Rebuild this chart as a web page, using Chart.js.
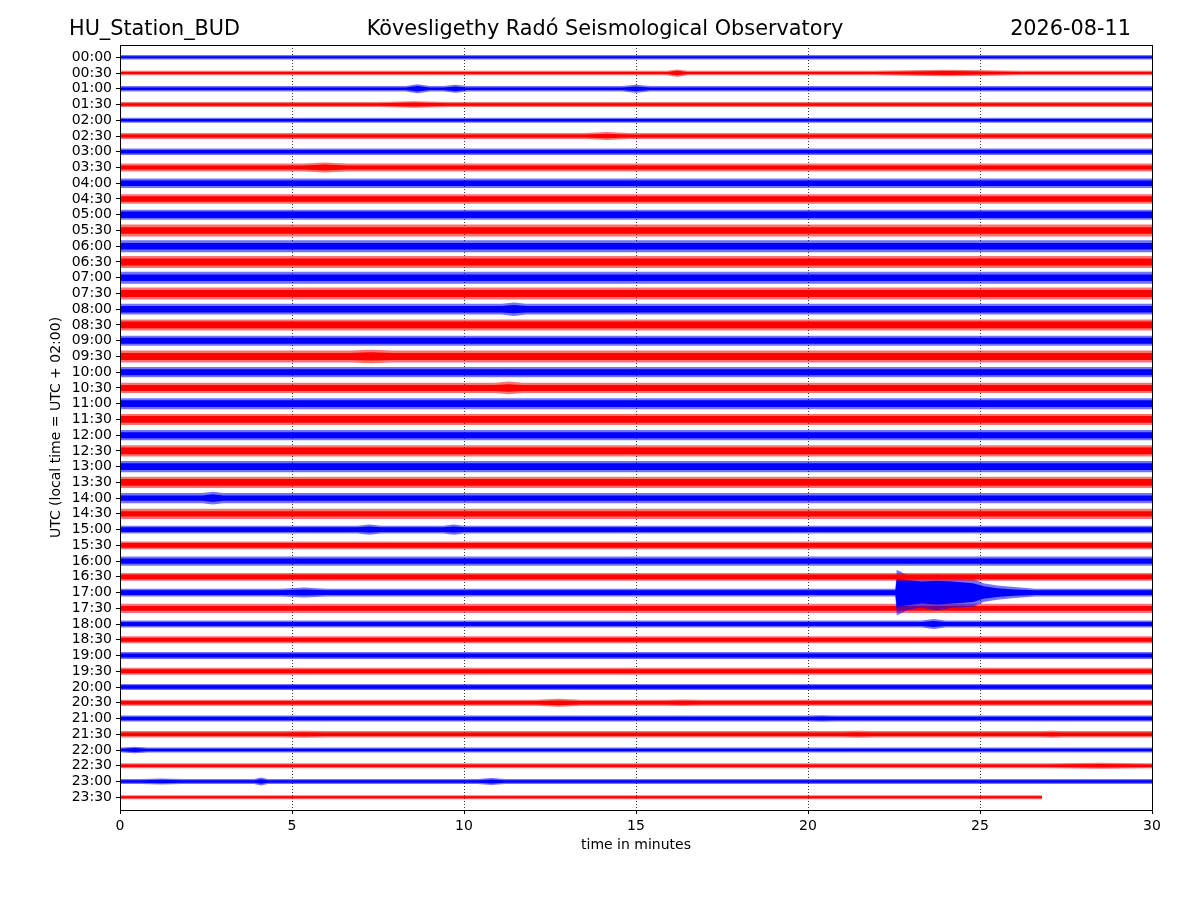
<!DOCTYPE html>
<html lang="en">
<head>
    <meta charset="UTF-8">
    <title>HU_Station_BUD helicorder</title>
    <script src="https://cdn.jsdelivr.net/npm/chart.js"></script>
    <style>
        html, body { margin: 0; padding: 0; background: #fff; }
        #wrap { width: 1200px; height: 900px; position: relative; }
    </style>
</head>
<body>
    <div id="wrap"><canvas id="heliChart"></canvas></div>

    <script>
        // header texts
        const stationName = 'HU_Station_BUD';
        const observatoryName = 'Kövesligethy Radó Seismological Observatory';
        const dateLabel = '2026-08-11';

        // one trace per half hour, top to bottom
        const timeLabels = [
            '00:00', '00:30', '01:00', '01:30', '02:00', '02:30', '03:00', '03:30',
            '04:00', '04:30', '05:00', '05:30', '06:00', '06:30', '07:00', '07:30',
            '08:00', '08:30', '09:00', '09:30', '10:00', '10:30', '11:00', '11:30',
            '12:00', '12:30', '13:00', '13:30', '14:00', '14:30', '15:00', '15:30',
            '16:00', '16:30', '17:00', '17:30', '18:00', '18:30', '19:00', '19:30',
            '20:00', '20:30', '21:00', '21:30', '22:00', '22:30', '23:00', '23:30'
        ];
        const minuteTicks = [0, 5, 10, 15, 20, 25, 30];

        // background noise level of each trace (fraction of trace spacing)
        const coreAmp = [
            0.065, 0.065, 0.08, 0.075, 0.075, 0.095, 0.115, 0.125,
            0.17, 0.17, 0.21, 0.21, 0.21, 0.22, 0.21, 0.22,
            0.21, 0.21, 0.19, 0.22, 0.19, 0.19, 0.21, 0.21,
            0.19, 0.21, 0.21, 0.21, 0.17, 0.17, 0.15, 0.15,
            0.17, 0.15, 0.15, 0.15, 0.13, 0.13, 0.13, 0.13,
            0.11, 0.11, 0.11, 0.11, 0.085, 0.085, 0.085, 0.065
        ];
        // spikes reached by the noise of each trace
        const peakAmp = [
            0.145, 0.145, 0.17, 0.16, 0.16, 0.19, 0.21, 0.25,
            0.30, 0.30, 0.32, 0.38, 0.38, 0.38, 0.38, 0.38,
            0.34, 0.35, 0.32, 0.38, 0.32, 0.32, 0.35, 0.35,
            0.32, 0.35, 0.35, 0.35, 0.32, 0.32, 0.25, 0.25,
            0.29, 0.25, 0.25, 0.29, 0.22, 0.22, 0.22, 0.22,
            0.19, 0.19, 0.19, 0.21, 0.16, 0.16, 0.16, 0.13
        ];
        // louder stretches: [trace, from minute, to minute, peak]
        const bursts = [
            [1, 15.9, 16.5, 0.23], [1, 21.9, 26.2, 0.21],
            [2, 8.3, 9.0, 0.29], [2, 9.4, 10.1, 0.25], [2, 14.6, 15.4, 0.25],
            [3, 7.5, 9.6, 0.21],
            [5, 13.5, 14.8, 0.25],
            [7, 5.3, 6.6, 0.32],
            [16, 11.1, 11.8, 0.43],
            [19, 6.7, 7.9, 0.43],
            [21, 10.9, 11.7, 0.40],
            [28, 2.4, 3.0, 0.40],
            [30, 6.9, 7.6, 0.32], [30, 9.4, 10.0, 0.32],
            [34, 4.7, 6.0, 0.32],
            [36, 23.3, 24.0, 0.32],
            [41, 12.1, 13.4, 0.25], [41, 15.8, 16.9, 0.21],
            [42, 20.0, 20.8, 0.21],
            [43, 4.7, 6.0, 0.22], [43, 21.0, 21.9, 0.22], [43, 26.8, 27.4, 0.22],
            [44, 0.05, 0.8, 0.21],
            [45, 27.0, 30.0, 0.19],
            [46, 0.6, 1.8, 0.19], [46, 3.9, 4.3, 0.25], [46, 10.4, 11.2, 0.22]
        ];
        // earthquake on the 17:00 trace
        const quakeTrace = 34;
        const quakeMinutes = [22.54, 22.58, 22.9, 23.3, 23.75, 24.2, 24.8, 25.1, 25.5, 26.0, 26.6];
        const quakePeak = [0.25, 1.45, 1.10, 0.95, 1.15, 0.95, 0.90, 0.60, 0.45, 0.35, 0.25];
        const quakeCore = [0.15, 0.90, 0.80, 0.70, 0.75, 0.70, 0.60, 0.40, 0.28, 0.20, 0.15];
        const lastTraceEnd = 26.8;

        const BLUE = '#0000ff';
        const RED = '#ff0000';

        function envelope(i, base, k, quake) {
            const end = i === timeLabels.length - 1 ? lastTraceEnd : 30;
            const pts = [[0, base]];
            bursts.filter(b => b[0] === i).sort((a, b) => a[1] - b[1]).forEach(b => {
                pts.push([b[1], base], [(b[1] + b[2]) / 2, Math.max(base, b[3] * k)], [b[2], base]);
            });
            if (i === quakeTrace) {
                quakeMinutes.forEach((m, j) => pts.push([m, quake[j]]));
            }
            pts.sort((a, b) => a[0] - b[0]);
            pts.push([end, base]);
            return pts;
        }

        const datasets = [];
        timeLabels.forEach((label, i) => {
            const col = i % 2 === 0 ? BLUE : RED;
            const soft = i % 2 === 0 ? 'rgba(0,0,255,0.55)' : 'rgba(255,0,0,0.55)';
            const outer = envelope(i, peakAmp[i], 1, quakePeak);
            const core = envelope(i, coreAmp[i], 0.6, quakeCore);
            datasets.push(
                { data: outer.map(p => ({ x: p[0], y: i - p[1] })), fill: false, borderWidth: 0, backgroundColor: soft },
                { data: outer.map(p => ({ x: p[0], y: i + p[1] })), fill: '-1', borderWidth: 0, backgroundColor: soft },
                { data: core.map(p => ({ x: p[0], y: i - p[1] })), fill: false, borderWidth: 0, backgroundColor: col },
                { data: core.map(p => ({ x: p[0], y: i + p[1] })), fill: '-1', borderWidth: 0, backgroundColor: col }
            );
        });

        const frameAndHeader = {
            id: 'frameAndHeader',
            afterDatasetsDraw(chart) {
                const { ctx, chartArea: a } = chart;
                ctx.save();
                ctx.strokeStyle = '#000';
                ctx.lineWidth = 1;
                ctx.strokeRect(Math.round(a.left) + 0.5, Math.round(a.top) + 0.5,
                    Math.round(a.right - a.left), Math.round(a.bottom - a.top));
                ctx.fillStyle = '#000';
                ctx.font = '20.8px "DejaVu Sans"';
                ctx.textBaseline = 'alphabetic';
                ctx.textAlign = 'left';
                ctx.fillText(stationName, 69, 35);
                ctx.textAlign = 'center';
                ctx.fillText(observatoryName, 605, 35);
                ctx.textAlign = 'right';
                ctx.fillText(dateLabel, 1131, 35);
                ctx.restore();
            }
        };

        Chart.defaults.font.family = '"DejaVu Sans", sans-serif';
        Chart.defaults.font.size = 14;
        Chart.defaults.color = '#000';

        new Chart(document.getElementById('heliChart'), {
            type: 'line',
            data: { datasets: datasets },
            plugins: [frameAndHeader],
            options: {
                responsive: true,
                maintainAspectRatio: false,
                animation: false,
                events: [],
                elements: { point: { radius: 0 }, line: { tension: 0 } },
                layout: { padding: { left: 44, top: 45, right: 48, bottom: 43 } },
                plugins: { legend: { display: false }, tooltip: { enabled: false } },
                scales: {
                    x: {
                        type: 'linear',
                        min: 0,
                        max: 30,
                        afterFit: s => { s.height = 47; },
                        afterBuildTicks: s => { s.ticks = minuteTicks.map(v => ({ value: v })); },
                        ticks: { padding: 4, maxRotation: 0 },
                        grid: { color: '#000', lineWidth: 0.8, tickLength: 4, tickBorderDash: [], tickColor: '#000', tickWidth: 1 },
                        border: { display: true, color: '#000', width: 1, dash: [1, 2] },
                        title: { display: true, text: 'time in minutes', padding: 3 }
                    },
                    y: {
                        type: 'linear',
                        reverse: true,
                        min: -0.78,
                        max: 47.81,
                        afterFit: s => { s.width = 76; },
                        afterBuildTicks: s => { s.ticks = timeLabels.map((t, i) => ({ value: i })); },
                        ticks: { padding: 4, autoSkip: false, callback: (v) => timeLabels[v] },
                        grid: { drawOnChartArea: false, tickLength: 4, tickColor: '#000', tickWidth: 1 },
                        border: { display: true, color: '#000', width: 1 },
                        title: { display: true, text: 'UTC (local time = UTC + 02:00)', padding: 4 }
                    }
                }
            }
        });
    </script>
</body>
</html>
